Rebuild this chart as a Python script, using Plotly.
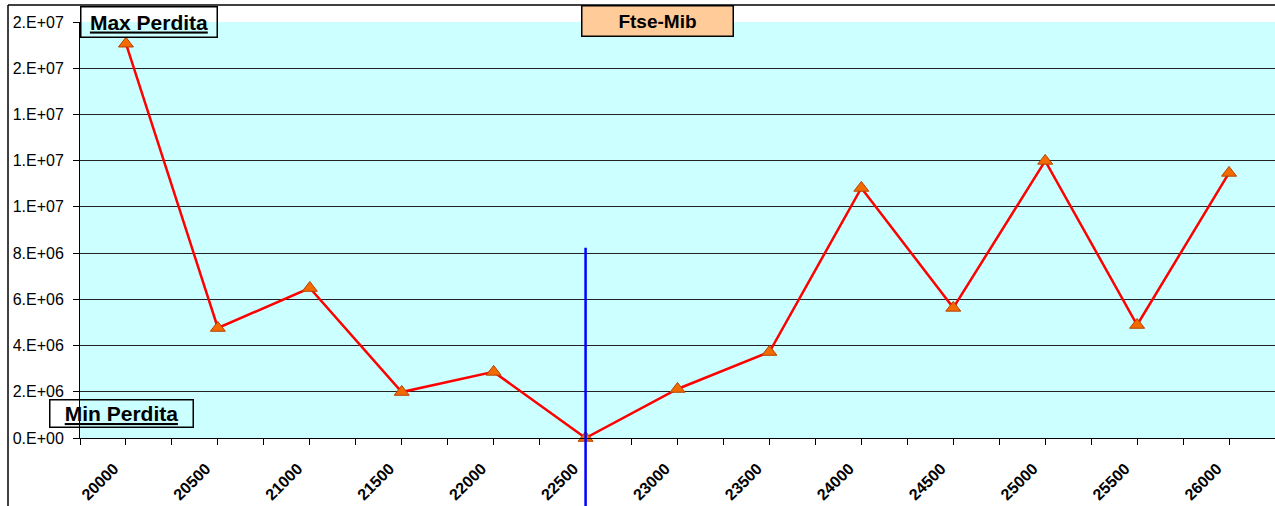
import plotly.graph_objects as go

strikes = [20000, 20500, 21000, 21500, 22000, 22500, 23000, 23500, 24000, 24500, 25000, 25500, 26000]
perdita = [17.06e6, 4.76e6, 6.49e6, 1.99e6, 2.86e6, 0.0, 2.12e6, 3.72e6, 10.82e6, 5.63e6, 11.99e6, 4.89e6, 11.47e6]
y_tickvals = [0, 2e6, 4e6, 6e6, 8e6, 10e6, 12e6, 14e6, 16e6, 18e6]
y_ticktext = ["0.E+00", "2.E+06", "4.E+06", "6.E+06", "8.E+06", "1.E+07", "1.E+07", "1.E+07", "2.E+07", "2.E+07"]
min_strike = 22500
min_line_top = 8.23e6

W, H = 1275, 506
L, R, T, B = 80, 0, 22, 68
plot_w = W - L - R
plot_h = H - T - B


def px_x(px):
    return (px - L) / plot_w


def px_y(py):
    return (H - B - py) / plot_h


FAM = "Liberation Sans, Arial, sans-serif"

fig = go.Figure()
fig.add_trace(go.Scatter(
    x=strikes, y=perdita, mode="lines+markers",
    line=dict(color="#FF0000", width=2.5),
    marker=dict(symbol="triangle-up", size=13, color="#F26A00",
                line=dict(color="#B84000", width=1)),
    cliponaxis=False, showlegend=False,
))

# vertical blue line at the minimum strike
fig.add_shape(type="line", xref="x", yref="paper",
              x0=min_strike, x1=min_strike,
              y0=px_y(H + 2), y1=min_line_top / 18e6,
              line=dict(color="#0000FF", width=2.5), layer="above")

# outer frame lines
fig.add_shape(type="line", xref="paper", yref="paper",
              x0=px_x(8), x1=px_x(8), y0=px_y(H + 5), y1=px_y(5),
              line=dict(color="black", width=1.5))
fig.add_shape(type="line", xref="paper", yref="paper",
              x0=px_x(8), x1=px_x(W + 5), y0=px_y(5), y1=px_y(5),
              line=dict(color="black", width=1.5))

font_box = dict(family=FAM, size=21, color="black")

fig.add_annotation(xref="paper", yref="paper", x=px_x(80), y=px_y(6),
                   xanchor="left", yanchor="top", showarrow=False,
                   text="<b><u>Max Perdita</u></b>", font=font_box,
                   width=135, height=29, borderpad=0, borderwidth=1.5,
                   bordercolor="black", bgcolor="rgba(0,0,0,0)")
fig.add_annotation(xref="paper", yref="paper", x=px_x(49), y=px_y(399),
                   xanchor="left", yanchor="top", showarrow=False,
                   text="<b><u>Min Perdita</u></b>", font=font_box,
                   width=142, height=26, borderpad=0, borderwidth=1.5,
                   bordercolor="black", bgcolor="rgba(0,0,0,0)")
fig.add_annotation(xref="paper", yref="paper", x=px_x(581), y=px_y(5),
                   xanchor="left", yanchor="top", showarrow=False,
                   text="<b>Ftse-Mib</b>", font=dict(family=FAM, size=19, color="black"),
                   width=150, height=29, borderpad=0, borderwidth=1.5,
                   bordercolor="black", bgcolor="#FFCC99")

fig.update_layout(
    width=W, height=H,
    margin=dict(l=L, r=R, t=T, b=B, autoexpand=False),
    paper_bgcolor="white", plot_bgcolor="#CCFFFF",
    font=dict(family=FAM, size=16, color="black"),
    xaxis=dict(range=[19750, 26250], tickvals=strikes,
               ticktext=["<b>%d</b>" % s for s in strikes],
               tickangle=-45, ticks="outside", ticklen=6, tickcolor="black",
               showline=True, linecolor="black", linewidth=1,
               showgrid=False, zeroline=False, automargin=False,
               tickfont=dict(family=FAM, size=16),
               ticklabelstandoff=8, ticklabelshift=-12,
               minor=dict(dtick=250, tick0=19750, ticks="outside", ticklen=6,
                          tickcolor="black", showgrid=False)),
    yaxis=dict(range=[0, 18e6], tickvals=y_tickvals, ticktext=y_ticktext,
               ticks="outside", ticklen=6, tickcolor="black",
               showline=True, linecolor="black", linewidth=1,
               showgrid=True, gridcolor="#222222", gridwidth=1,
               zeroline=False, automargin=False, ticklabelstandoff=6,
               tickfont=dict(family=FAM, size=16)),
)

fig.write_html("out.html", config={"displayModeBar": False},
               post_script="document.body.style.margin='0';document.body.style.overflow='hidden';")
